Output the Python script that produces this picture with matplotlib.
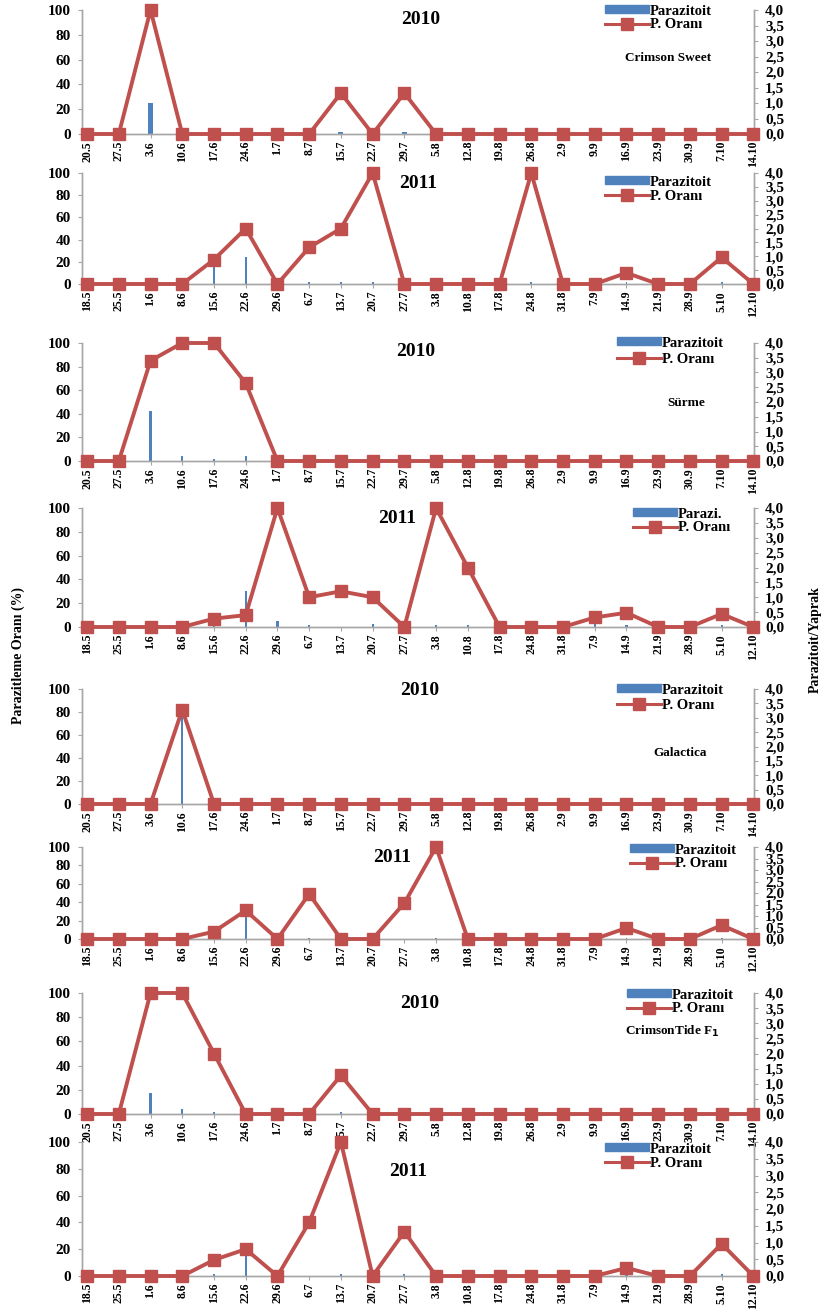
import matplotlib
matplotlib.use("Agg")
import matplotlib.pyplot as plt
from matplotlib.ticker import FuncFormatter, FixedLocator
from matplotlib.patches import Patch
from matplotlib.lines import Line2D

# ---------------- data ----------------
dates_2010 = ["20.5", "27.5", "3.6", "10.6", "17.6", "24.6", "1.7", "8.7", "15.7", "22.7", "29.7",
              "5.8", "12.8", "19.8", "26.8", "2.9", "9.9", "16.9", "23.9", "30.9", "7.10", "14.10"]
dates_2011 = ["18.5", "25.5", "1.6", "8.6", "15.6", "22.6", "29.6", "6.7", "13.7", "20.7", "27.7",
              "3.8", "10.8", "17.8", "24.8", "31.8", "7.9", "14.9", "21.9", "28.9", "5.10", "12.10"]

# P. Oranı (%) - left axis
cs_2010_oran = [0, 0, 100, 0, 0, 0, 0, 0, 33, 0, 33, 0, 0, 0, 0, 0, 0, 0, 0, 0, 0, 0]
cs_2011_oran = [0, 0, 0, 0, 22, 50, 0, 33, 50, 100, 0, 0, 0, 0, 100, 0, 0, 10, 0, 0, 24, 0]
su_2010_oran = [0, 0, 85, 100, 100, 66, 0, 0, 0, 0, 0, 0, 0, 0, 0, 0, 0, 0, 0, 0, 0, 0]
su_2011_oran = [0, 0, 0, 0, 7, 10, 100, 25, 30, 25, 0, 100, 50, 0, 0, 0, 8, 12, 0, 0, 11, 0]
ga_2010_oran = [0, 0, 0, 82, 0, 0, 0, 0, 0, 0, 0, 0, 0, 0, 0, 0, 0, 0, 0, 0, 0, 0]
ga_2011_oran = [0, 0, 0, 0, 8, 31, 0, 49, 0, 0, 39, 100, 0, 0, 0, 0, 0, 12, 0, 0, 15, 0]
ct_2010_oran = [0, 0, 100, 100, 50, 0, 0, 0, 32, 0, 0, 0, 0, 0, 0, 0, 0, 0, 0, 0, 0, 0]
ct_2011_oran = [0, 0, 0, 0, 12, 20, 0, 40, 100, 0, 33, 0, 0, 0, 0, 0, 0, 6, 0, 0, 24, 0]

# Parazitoit / Yaprak - right axis
cs_2010_par = [0, 0, 1.0, 0, 0, 0, 0, 0, 0.08, 0, 0.08, 0, 0, 0, 0, 0, 0, 0, 0, 0, 0, 0]
cs_2011_par = [0, 0, 0, 0.15, 0.8, 0.97, 0, 0.08, 0.08, 0.08, 0, 0, 0, 0, 0.08, 0, 0, 0.08, 0, 0, 0.08, 0]
su_2010_par = [0, 0, 1.7, 0.17, 0.07, 0.17, 0, 0, 0, 0, 0, 0, 0, 0, 0, 0, 0, 0, 0, 0, 0, 0]
su_2011_par = [0, 0, 0, 0, 0.1, 1.2, 0.2, 0.08, 0, 0.1, 0, 0.08, 0.08, 0, 0, 0, 0.2, 0.06, 0, 0, 0.06, 0]
ga_2010_par = [0, 0, 0, 3.1, 0, 0, 0, 0, 0, 0, 0, 0, 0, 0, 0, 0, 0, 0, 0, 0, 0, 0]
ga_2011_par = [0, 0, 0, 0, 0.06, 1.05, 0, 0.06, 0, 0, 0, 0.06, 0, 0, 0, 0, 0, 0.06, 0, 0, 0.06, 0]
ct_2010_par = [0, 0, 0.7, 0.17, 0.08, 0, 0, 0, 0.06, 0, 0, 0, 0, 0, 0, 0, 0, 0, 0, 0, 0, 0]
ct_2011_par = [0, 0, 0, 0, 0.06, 0.75, 0, 0, 0.06, 0, 0.06, 0, 0, 0, 0, 0, 0, 0.06, 0, 0, 0.06, 0]

years = ["2010", "2011", "2010", "2011", "2010", "2011", "2010", "2011"]
varieties = ["Crimson Sweet", "", "Sürme", "", "Galactica", "", "CrimsonTide F$_1$", ""]
bar_labels = ["Parazitoit", "Parazitoit", "Parazitoit", "Parazi.", "Parazitoit", "Parazitoit", "Parazitoit", "Parazitoit"]
line_label = "P. Oranı"
left_ticks = [0, 20, 40, 60, 80, 100]
right_ticks = [0, 0.5, 1.0, 1.5, 2.0, 2.5, 3.0, 3.5, 4.0]

panels = [
    (dates_2010, cs_2010_oran, cs_2010_par),
    (dates_2011, cs_2011_oran, cs_2011_par),
    (dates_2010, su_2010_oran, su_2010_par),
    (dates_2011, su_2011_oran, su_2011_par),
    (dates_2010, ga_2010_oran, ga_2010_par),
    (dates_2011, ga_2011_oran, ga_2011_par),
    (dates_2010, ct_2010_oran, ct_2010_par),
    (dates_2011, ct_2011_oran, ct_2011_par),
]

# ---------------- layout (pixels) ----------------
W, H = 827, 1313
ybox = [(10, 134), (173, 284), (343, 461), (508, 627), (689, 804), (847, 939), (993, 1114), (1142, 1276)]
x_left, x_right = 82, 754
title_pos = [(421, 19), (418, 184), (416, 351), (397, 519), (420, 691), (392, 857), (420, 1003), (408, 1172)]
var_pos = [(668, 58), None, (686, 403), None, (680, 753), None, (672, 1031), None]
leg_pos = [(605, 14, 14), (605, 185, 19), (617, 346, 21), (633, 517, 12),
           (617, 693, 20), (630, 853, 17), (627, 998, 18), (605, 1152, 19)]
bar_w = [0.16, 0.06, 0.07, 0.07, 0.06, 0.06, 0.07, 0.07]

RED = "#C0504D"
BLUE = "#4F81BD"
GRAY = "#A6A6A6"
SERIF = ["Liberation Serif", "DejaVu Serif"]

plt.rcParams["font.family"] = SERIF
plt.rcParams["font.weight"] = "bold"

fig = plt.figure(figsize=(W / 100, H / 100), dpi=100)


def fx(px):
    return px / W


def fy(py):
    return 1 - py / H


for i, (dates, oran, par) in enumerate(panels):
    top, bot = ybox[i]
    ax = fig.add_axes([fx(x_left), fy(bot), fx(x_right) - fx(x_left), (bot - top) / H])
    ax2 = ax.twinx()
    ax.set_zorder(ax2.get_zorder() + 1)
    ax.patch.set_visible(False)

    xs = list(range(len(dates)))
    ax2.bar(xs, par, width=bar_w[i], color=BLUE, zorder=2)
    ax.plot(xs, oran, color=RED, lw=2.8, marker="s", markersize=8.5,
            markerfacecolor=RED, markeredgecolor=RED, clip_on=False, zorder=3)

    ax.set_xlim(-0.16, len(dates) - 1 + 0.02)
    ax.set_ylim(0, 100)
    ax2.set_ylim(0, 4.0)
    ax.set_yticks(left_ticks)
    ax2.yaxis.set_major_locator(FixedLocator(right_ticks))
    ax2.yaxis.set_major_formatter(FuncFormatter(lambda v, p: f"{v:.1f}".replace(".", ",")))
    ax.set_xticks(xs)
    ax.set_xticklabels(dates, rotation=90, fontsize=8.5, fontweight="bold")

    for a in (ax, ax2):
        a.spines["top"].set_visible(False)
        for s in ("left", "right", "bottom"):
            a.spines[s].set_color(GRAY)
            a.spines[s].set_linewidth(1.0)
    ax.tick_params(axis="y", labelsize=11, length=3, color=GRAY, pad=5)
    ax.tick_params(axis="x", length=3, color=GRAY, pad=2)
    ax2.tick_params(axis="y", labelsize=11, length=3, color=GRAY, pad=5)
    for lab in ax.get_yticklabels() + ax2.get_yticklabels():
        lab.set_fontweight("bold")

    tx, ty = title_pos[i]
    fig.text(fx(tx), fy(ty), years[i], ha="center", va="center", fontsize=14,
             fontweight="bold", family=SERIF)
    if var_pos[i] is not None:
        vx, vy = var_pos[i]
        fig.text(fx(vx), fy(vy), varieties[i], ha="center", va="center", fontsize=9.5,
                 fontweight="bold", family=SERIF)

    lx, ly, spacing = leg_pos[i]
    handles = [Patch(facecolor=BLUE, edgecolor=BLUE),
               Line2D([0], [0], color=RED, lw=2.2, marker="s", markersize=8)]
    fs = 10.5
    fs_px = fs * 100 / 72
    ax.legend(handles, [bar_labels[i], line_label], loc="upper left",
              bbox_to_anchor=(fx(lx), fy(ly - 0.65 * fs_px)),
              bbox_transform=fig.transFigure, frameon=False,
              prop={"family": SERIF, "weight": "bold", "size": fs},
              handlelength=3.0, handleheight=0.45, handletextpad=0.1,
              borderpad=0, borderaxespad=0,
              labelspacing=max(0.05, (spacing - 1.2 * fs_px) / fs_px))

fig.text(fx(18), fy(655), "Parazitleme Oranı (%)", rotation=90, ha="center", va="center",
         fontsize=10, fontweight="bold", family=SERIF)
fig.text(fx(815), fy(640), "Parazitoit/Yaprak", rotation=90, ha="center", va="center",
         fontsize=10, fontweight="bold", family=SERIF)

fig.savefig("out.png", dpi=100)
